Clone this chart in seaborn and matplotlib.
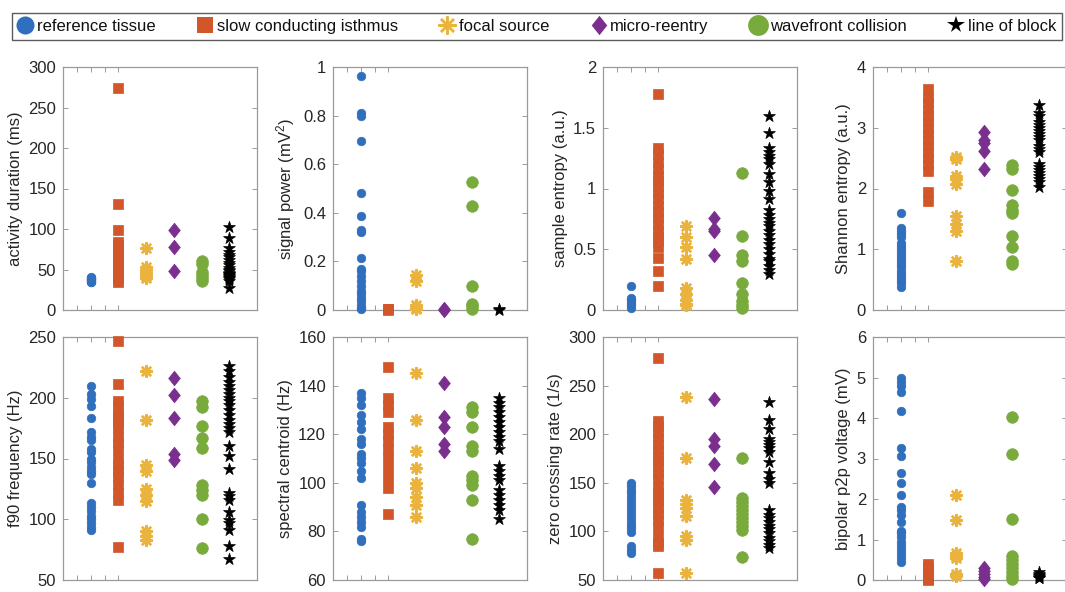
import numpy as np
import pandas as pd
import matplotlib
matplotlib.use("Agg")
import matplotlib.pyplot as plt
from matplotlib.lines import Line2D
from matplotlib.path import Path
import seaborn as sns

# ---------------- data ----------------
categories = ["reference tissue", "slow conducting isthmus", "focal source",
              "micro-reentry", "wavefront collision", "line of block"]

ylabels = ["activity duration (ms)", "signal power (mV$^2$)", "sample entropy (a.u.)",
           "Shannon entropy (a.u.)", "f90 frequency (Hz)", "spectral centroid (Hz)",
           "zero crossing rate (1/s)", "bipolar p2p voltage (mV)"]

ylims = [(0, 300), (0, 1), (0, 2), (0, 4), (50, 250), (60, 160), (50, 300), (0, 6)]
yticks = [[0, 50, 100, 150, 200, 250, 300], [0, 0.2, 0.4, 0.6, 0.8, 1],
          [0, 0.5, 1, 1.5, 2], [0, 1, 2, 3, 4], [50, 100, 150, 200, 250],
          [60, 80, 100, 120, 140, 160], [50, 100, 150, 200, 250, 300],
          [0, 1, 2, 3, 4, 5, 6]]
yticklabels = [["0", "50", "100", "150", "200", "250", "300"],
               ["0", "0.2", "0.4", "0.6", "0.8", "1"],
               ["0", "0.5", "1", "1.5", "2"], ["0", "1", "2", "3", "4"],
               ["50", "100", "150", "200", "250"],
               ["60", "80", "100", "120", "140", "160"],
               ["50", "100", "150", "200", "250", "300"],
               ["0", "1", "2", "3", "4", "5", "6"]]

# activity duration (ms)
act_ref = [34, 35, 36, 37, 38, 39, 40, 41]
act_sci = [274, 131, 99, 84, 80, 75, 70, 66, 62, 58, 54, 50, 46, 42, 38, 35]
act_foc = [77, 53, 50, 46, 42, 39]
act_mre = [99, 78, 48]
act_wfc = [61, 57, 47, 43, 39, 36]
act_lob = [103, 89, 76, 72, 68, 65, 62, 58, 55, 52, 50, 48, 46, 45, 44, 43, 42, 41, 40, 38, 36, 27]

# signal power (mV^2)
pow_ref = [0.965, 0.81, 0.80, 0.695, 0.48, 0.385, 0.33, 0.32, 0.215, 0.17, 0.16, 0.14,
           0.12, 0.10, 0.08, 0.065, 0.05, 0.035, 0.02, 0.01, 0.005]
pow_sci = [0.005, 0.003, 0.002]
pow_foc = [0.145, 0.12, 0.02, 0.01, 0.005]
pow_mre = [0.003, 0.002]
pow_wfc = [0.525, 0.428, 0.10, 0.025, 0.015, 0.005]
pow_lob = [0.003, 0.002]

# sample entropy (a.u.)
sam_ref = [0.195, 0.10, 0.08, 0.06, 0.04, 0.02]
sam_sci = [1.78, 1.33, 1.28, 1.22, 1.16, 1.10, 1.06, 1.01, 0.96, 0.91, 0.86, 0.81,
           0.76, 0.71, 0.65, 0.61, 0.57, 0.52, 0.43, 0.32, 0.20]
sam_foc = [0.69, 0.60, 0.52, 0.42, 0.18, 0.13, 0.08, 0.05, 0.04]
sam_mre = [0.76, 0.67, 0.65, 0.45]
sam_wfc = [1.13, 0.61, 0.45, 0.40, 0.22, 0.13, 0.07, 0.04, 0.02]
sam_lob = [1.60, 1.46, 1.33, 1.30, 1.27, 1.24, 1.20, 1.12, 1.05, 0.98, 0.91, 0.82,
           0.78, 0.75, 0.72, 0.69, 0.65, 0.62, 0.58, 0.54, 0.50, 0.46, 0.42, 0.40,
           0.36, 0.33, 0.30]

# Shannon entropy (a.u.)
sha_ref = [1.60, 1.35, 1.30, 1.25, 1.20, 1.10, 1.05, 1.00, 0.95, 0.90, 0.85, 0.80,
           0.75, 0.70, 0.65, 0.60, 0.55, 0.50, 0.45, 0.38]
sha_sci = [3.63, 3.49, 3.40, 3.30, 3.20, 3.10, 3.00, 2.90, 2.80, 2.70, 2.60, 2.50,
           2.40, 2.28, 1.95, 1.79]
sha_foc = [2.52, 2.48, 2.20, 2.15, 2.08, 1.55, 1.42, 1.30, 0.80]
sha_mre = [2.93, 2.80, 2.75, 2.62, 2.32]
sha_wfc = [2.39, 2.32, 1.98, 1.73, 1.65, 1.60, 1.22, 1.03, 0.80, 0.75]
sha_lob = [3.38, 3.25, 3.20, 3.10, 3.05, 3.00, 2.95, 2.90, 2.85, 2.80, 2.70, 2.65,
           2.60, 2.40, 2.35, 2.30, 2.25, 2.20, 2.15, 2.10, 2.03]

# f90 frequency (Hz)
f90_ref = [210, 203, 199, 193, 183, 172, 168, 165, 158, 155, 150, 147, 143, 140, 137,
           130, 113, 110, 107, 103, 100, 97, 94, 91]
f90_sci = [247, 211, 197, 192, 187, 183, 179, 175, 168, 163, 158, 150, 145, 140, 135,
           128, 122, 116, 77]
f90_foc = [222, 182, 145, 140, 125, 120, 115, 90, 86, 83]
f90_mre = [216, 202, 183, 154, 149]
f90_wfc = [197, 192, 177, 167, 159, 128, 124, 120, 100, 76]
f90_lob = [226, 222, 217, 213, 210, 206, 203, 200, 197, 194, 190, 186, 182, 178, 175,
           172, 160, 152, 141, 122, 119, 116, 106, 99, 97, 91, 78, 67]

# spectral centroid (Hz)
cen_ref = [137, 135, 132, 128, 125, 122, 118, 116, 112, 110, 108, 105, 102, 91, 88,
           86, 84, 82, 77, 76]
cen_sci = [147.5, 135, 132, 129, 123, 120, 117, 114, 110, 106, 102, 98, 87]
cen_foc = [145, 126, 113, 106, 100, 98, 94, 91, 86]
cen_mre = [141, 127, 123, 116, 113]
cen_wfc = [131, 129, 123, 115, 113, 103, 101, 99, 93, 77]
cen_lob = [135, 133, 131, 129, 127, 125, 123, 121, 119, 117, 114, 107, 105, 103, 101,
           97, 95, 93, 91, 89, 85]

# zero crossing rate (1/s)
zcr_ref = [150, 147, 143, 139, 135, 131, 127, 123, 119, 115, 111, 107, 103, 99, 85,
           81, 78]
zcr_sci = [278, 214, 208, 202, 196, 190, 184, 178, 172, 166, 160, 155, 146, 140, 135,
           130, 124, 118, 112, 105, 94, 88, 85, 57]
zcr_foc = [238, 176, 132, 128, 124, 116, 95, 91, 57]
zcr_mre = [236, 195, 188, 169, 146]
zcr_wfc = [176, 134, 130, 126, 122, 118, 114, 110, 106, 101, 74]
zcr_lob = [233, 215, 205, 195, 192, 189, 186, 182, 171, 160, 154, 150, 122, 117, 114,
           110, 106, 102, 98, 93, 90, 86, 83]

# bipolar p2p voltage (mV)
bip_ref = [5.0, 4.9, 4.8, 4.65, 4.17, 3.26, 3.06, 2.64, 2.39, 2.09, 1.80, 1.72, 1.60,
           1.44, 1.20, 1.15, 1.05, 0.95, 0.85, 0.75, 0.65, 0.55, 0.45]
bip_sci = [0.40, 0.32, 0.24, 0.16, 0.08, 0.02, 0.0]
bip_foc = [2.11, 1.47, 0.67, 0.60, 0.55, 0.15, 0.10]
bip_mre = [0.30, 0.22, 0.15, 0.08, 0.02]
bip_wfc = [4.03, 3.10, 1.50, 0.60, 0.50, 0.40, 0.30, 0.20, 0.10, 0.03]
bip_lob = [0.20, 0.15, 0.12, 0.10, 0.08, 0.06, 0.05]

panels = [
    [act_ref, act_sci, act_foc, act_mre, act_wfc, act_lob],
    [pow_ref, pow_sci, pow_foc, pow_mre, pow_wfc, pow_lob],
    [sam_ref, sam_sci, sam_foc, sam_mre, sam_wfc, sam_lob],
    [sha_ref, sha_sci, sha_foc, sha_mre, sha_wfc, sha_lob],
    [f90_ref, f90_sci, f90_foc, f90_mre, f90_wfc, f90_lob],
    [cen_ref, cen_sci, cen_foc, cen_mre, cen_wfc, cen_lob],
    [zcr_ref, zcr_sci, zcr_foc, zcr_mre, zcr_wfc, zcr_lob],
    [bip_ref, bip_sci, bip_foc, bip_mre, bip_wfc, bip_lob],
]

# ---------------- style ----------------
sns.set_theme(style="white")
plt.rcParams["font.family"] = ["Liberation Sans", "DejaVu Sans"]
plt.rcParams["mathtext.fontset"] = "custom"
plt.rcParams["mathtext.rm"] = "Liberation Sans"
plt.rcParams["mathtext.it"] = "Liberation Sans:italic"
plt.rcParams["mathtext.default"] = "regular"

TXT = "#262626"
SPINE = "#9a9a9a"
colors = ["#2f6fbd", "#d2562a", "#e9b33e", "#7a2e8e", "#78ab3c", "#000000"]
diamond = Path([(0, 1), (0.8, 0), (0, -1), (-0.8, 0), (0, 1)],
               [Path.MOVETO, Path.LINETO, Path.LINETO, Path.LINETO, Path.CLOSEPOLY])
markers = ["o", "s", (8, 2, 0), diamond, "o", "*"]
sizes = [38, 42, 60, 110, 70, 80]

fig = plt.figure(figsize=(10.65, 5.92), dpi=100)
W, H = 1065.0, 592.0
lefts = [63, 333, 603, 873]
row_tops = [67, 337]
aw, ah = 194, 243

for i in range(8):
    r, c = divmod(i, 4)
    left = lefts[c] / W
    bottom = 1 - (row_tops[r] + ah) / H
    ax = fig.add_axes([left, bottom, aw / W, ah / H])
    rows = []
    for k, vals in enumerate(panels[i]):
        for v in vals:
            rows.append({"cat": categories[k], "pos": k + 1, "val": v})
    df = pd.DataFrame(rows)
    for k, cat in enumerate(categories):
        sub = df[df["cat"] == cat]
        if k == 2:
            sns.scatterplot(data=sub, x="pos", y="val", ax=ax, marker=markers[k],
                            s=sizes[k], color=colors[k], linewidth=1.8,
                            clip_on=False, zorder=3, legend=False)
        else:
            sns.scatterplot(data=sub, x="pos", y="val", ax=ax, marker=markers[k],
                            s=sizes[k], color=colors[k], linewidth=0.5,
                            edgecolor=colors[k], clip_on=False, zorder=3,
                            legend=False)
    ax.set_xlim(0, 7)
    ax.set_ylim(*ylims[i])
    ax.set_xticks([0.5, 1, 1.5, 2])
    ax.set_xticklabels([])
    ax.set_yticks(yticks[i])
    ax.set_yticklabels(yticklabels[i])
    ax.set_xlabel("")
    ax.set_ylabel(ylabels[i], fontsize=12, color=TXT, labelpad=4)
    ax.tick_params(axis="both", which="both", direction="in", length=3.5, width=0.7,
                   color=SPINE, top=True, right=True, bottom=True, left=True,
                   labelsize=12, labelcolor=TXT, pad=5)
    for sp in ax.spines.values():
        sp.set_visible(True)
        sp.set_color(SPINE)
        sp.set_linewidth(0.9)
    ax.set_facecolor("white")

# legend
handles = []
leg_sizes = [13, 12, 13, 14, 15, 13]
for k, cat in enumerate(categories):
    if k == 2:
        h = Line2D([], [], linestyle="none", marker=markers[k], markersize=leg_sizes[k],
                   color=colors[k], markeredgewidth=1.8)
    else:
        h = Line2D([], [], linestyle="none", marker=markers[k], markersize=leg_sizes[k],
                   color=colors[k], markeredgewidth=0)
    handles.append(h)

leg = fig.legend(handles, categories, loc="lower left",
                 bbox_to_anchor=(12 / W, 1 - 40 / H, 1050 / W, 36 / H),
                 mode="expand", ncol=6, frameon=True, fancybox=False,
                 fontsize=12, handlelength=0.9, handletextpad=0.25,
                 borderaxespad=0, borderpad=0.35, columnspacing=1.2)
leg.get_frame().set_edgecolor("#333333")
leg.get_frame().set_linewidth(1.0)
for t in leg.get_texts():
    t.set_color("#111111")

fig.savefig("out.png", dpi=100, facecolor="white")
